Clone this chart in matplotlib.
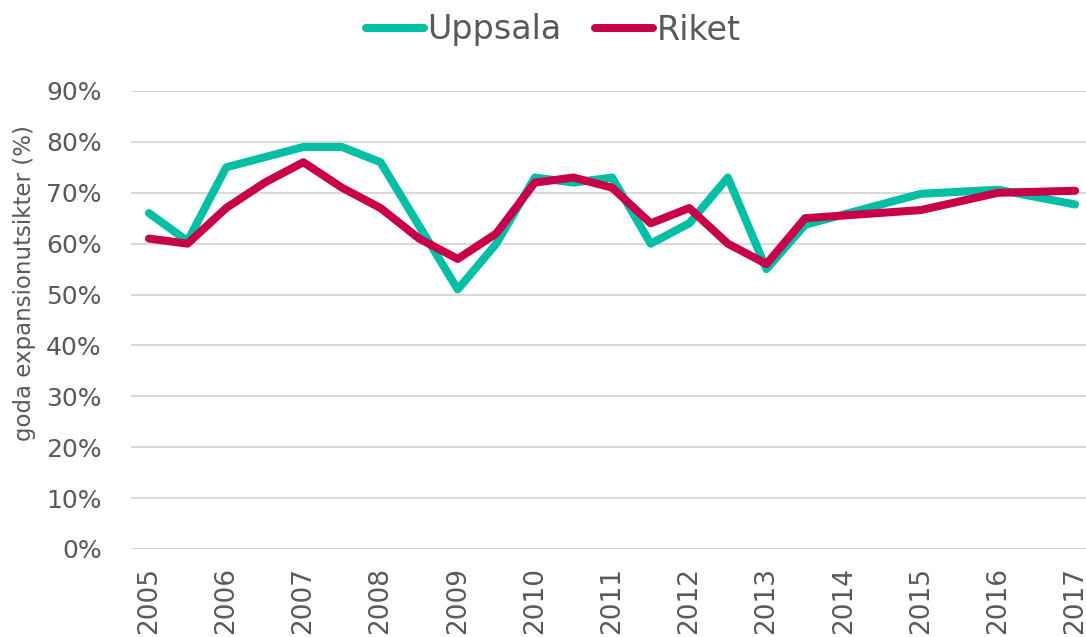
import matplotlib
matplotlib.use("Agg")
import matplotlib.pyplot as plt
from matplotlib.ticker import PercentFormatter

# halvårsmätningar 2005-2013, sedan årsvis
perioder = [2005, 2005.5, 2006, 2006.5, 2007, 2007.5, 2008, 2008.5, 2009, 2009.5,
            2010, 2010.5, 2011, 2011.5, 2012, 2012.5, 2013, 2013.5,
            2015, 2016, 2017]
uppsala = [66, 60.5, 75, 77, 79, 79, 76, 63.5, 51, 60,
           73, 72, 73, 60, 64, 73, 55, 63.7,
           69.8, 70.6, 67.7]
riket = [61, 60, 67, 72, 76, 71, 67, 61, 57, 62,
         72, 73, 71, 64, 67, 60, 56, 65,
         66.6, 70, 70.4]
ar_etiketter = list(range(2005, 2018))
y_ticks = list(range(0, 100, 10))

gra_text = "#595959"
teal = "#00BFA5"
rod = "#C8004A"

fig = plt.figure(figsize=(10.86, 6.37), dpi=100)
ax = fig.add_axes([131 / 1086, 88 / 637, 955 / 1086, 458 / 637])

ax.plot(perioder, uppsala, color=teal, lw=5.8, label="Uppsala",
        solid_capstyle="round", solid_joinstyle="round", zorder=3)
ax.plot(perioder, riket, color=rod, lw=5.8, label="Riket",
        solid_capstyle="round", solid_joinstyle="round", zorder=4)

ax.set_ylim(0, 90)
ax.set_yticks(y_ticks)
ax.yaxis.set_major_formatter(PercentFormatter(decimals=0))
ax.set_xlim(2004.767, 2017.14)
ax.set_xticks(ar_etiketter)
ax.set_xticklabels([str(a) for a in ar_etiketter], rotation=90, va="top")

ax.grid(axis="y", color="#D9D9D9", lw=1.5)
ax.set_axisbelow(True)
for s in ax.spines.values():
    s.set_visible(False)
ax.tick_params(axis="y", length=0, labelsize=18, labelcolor=gra_text, pad=21)
ax.tick_params(axis="x", length=0, labelsize=19, labelcolor=gra_text, pad=13)

fig.text(0.023, 0.556, "goda expansionutsikter (%)", rotation=90,
         ha="center", va="center", fontsize=16.5, color=gra_text)

leg = fig.legend(loc="center", bbox_to_anchor=(553 / 1086, 1 - 30 / 637), ncol=2,
                 frameon=False, fontsize=24, handlelength=1.75, handletextpad=0.1,
                 columnspacing=1.0, labelcolor=gra_text)
for line in leg.get_lines():
    line.set_linewidth(5.8)
    line.set_solid_capstyle("round")

fig.savefig("out.png", dpi=100)
